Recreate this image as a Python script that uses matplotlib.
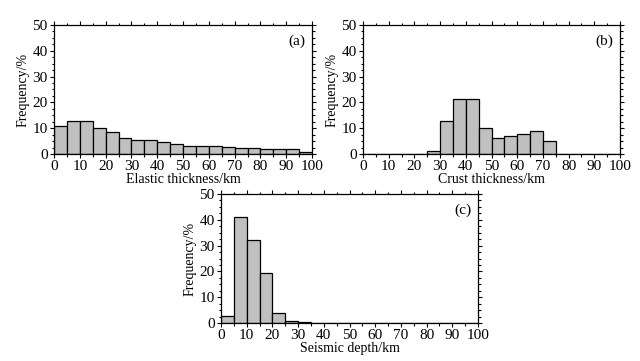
import matplotlib.pyplot as plt
import numpy as np
from matplotlib.ticker import MultipleLocator

# histogram bin edges (km) and frequencies (%)
bin_edges = np.arange(0, 105, 5)

elastic_freq = [10.8, 12.9, 12.7, 9.9, 8.7, 6.1, 5.4, 5.3, 4.5, 3.7,
                3.1, 3.2, 3.0, 2.8, 2.2, 2.2, 1.9, 1.9, 1.8, 0.6]
crust_freq = [0, 0, 0, 0, 0, 1.3, 12.7, 21.2, 21.4, 9.9,
              6.1, 7.0, 7.9, 8.8, 5.0, 0, 0, 0, 0, 0]
seismic_freq = [2.6, 41.1, 32.0, 19.5, 3.9, 0.8, 0.3, 0.1, 0, 0,
                0, 0, 0, 0, 0, 0, 0, 0, 0, 0]

xlabels = ["Elastic thickness/km", "Crust thickness/km", "Seismic depth/km"]
panel_tags = ["(a)", "(b)", "(c)"]

plt.rcParams["font.family"] = ["Liberation Serif", "DejaVu Serif"]
plt.rcParams["font.size"] = 10

W, H = 640, 361
fig = plt.figure(figsize=(W / 100, H / 100), dpi=100)

# axes boxes in pixels: left, top, right, bottom
boxes = [(54, 25, 312, 154), (363, 25, 620, 154), (221, 194, 478, 323)]


def draw_hist(ax, freq, xlabel, tag):
    ax.bar(bin_edges[:-1], freq, width=5, align="edge",
           color="#c0c0c0", edgecolor="black", linewidth=0.9)
    ax.set_xlim(0, 100)
    ax.set_ylim(0, 50)
    ax.xaxis.set_major_locator(MultipleLocator(10))
    ax.xaxis.set_minor_locator(MultipleLocator(5))
    ax.yaxis.set_major_locator(MultipleLocator(10))
    ax.yaxis.set_minor_locator(MultipleLocator(2.5))
    ax.tick_params(which="both", direction="out", top=True, right=True,
                   width=0.8, pad=1.5, labelsize=11)
    ax.tick_params(which="major", length=3)
    ax.tick_params(which="minor", length=1.8)
    ax.set_xlabel(xlabel, fontsize=10, labelpad=0)
    ax.set_ylabel("Frequency/%", fontsize=10, labelpad=2)
    ax.text(0.975, 0.93, tag, transform=ax.transAxes, ha="right", va="top",
            fontsize=11)
    for s in ax.spines.values():
        s.set_linewidth(0.9)


for (l, t, r, b), freq, xl, tag in zip(boxes,
                                       [elastic_freq, crust_freq, seismic_freq],
                                       xlabels, panel_tags):
    ax = fig.add_axes([l / W, 1 - b / H, (r - l) / W, (b - t) / H])
    draw_hist(ax, freq, xl, tag)

fig.savefig("out.png", dpi=100)
